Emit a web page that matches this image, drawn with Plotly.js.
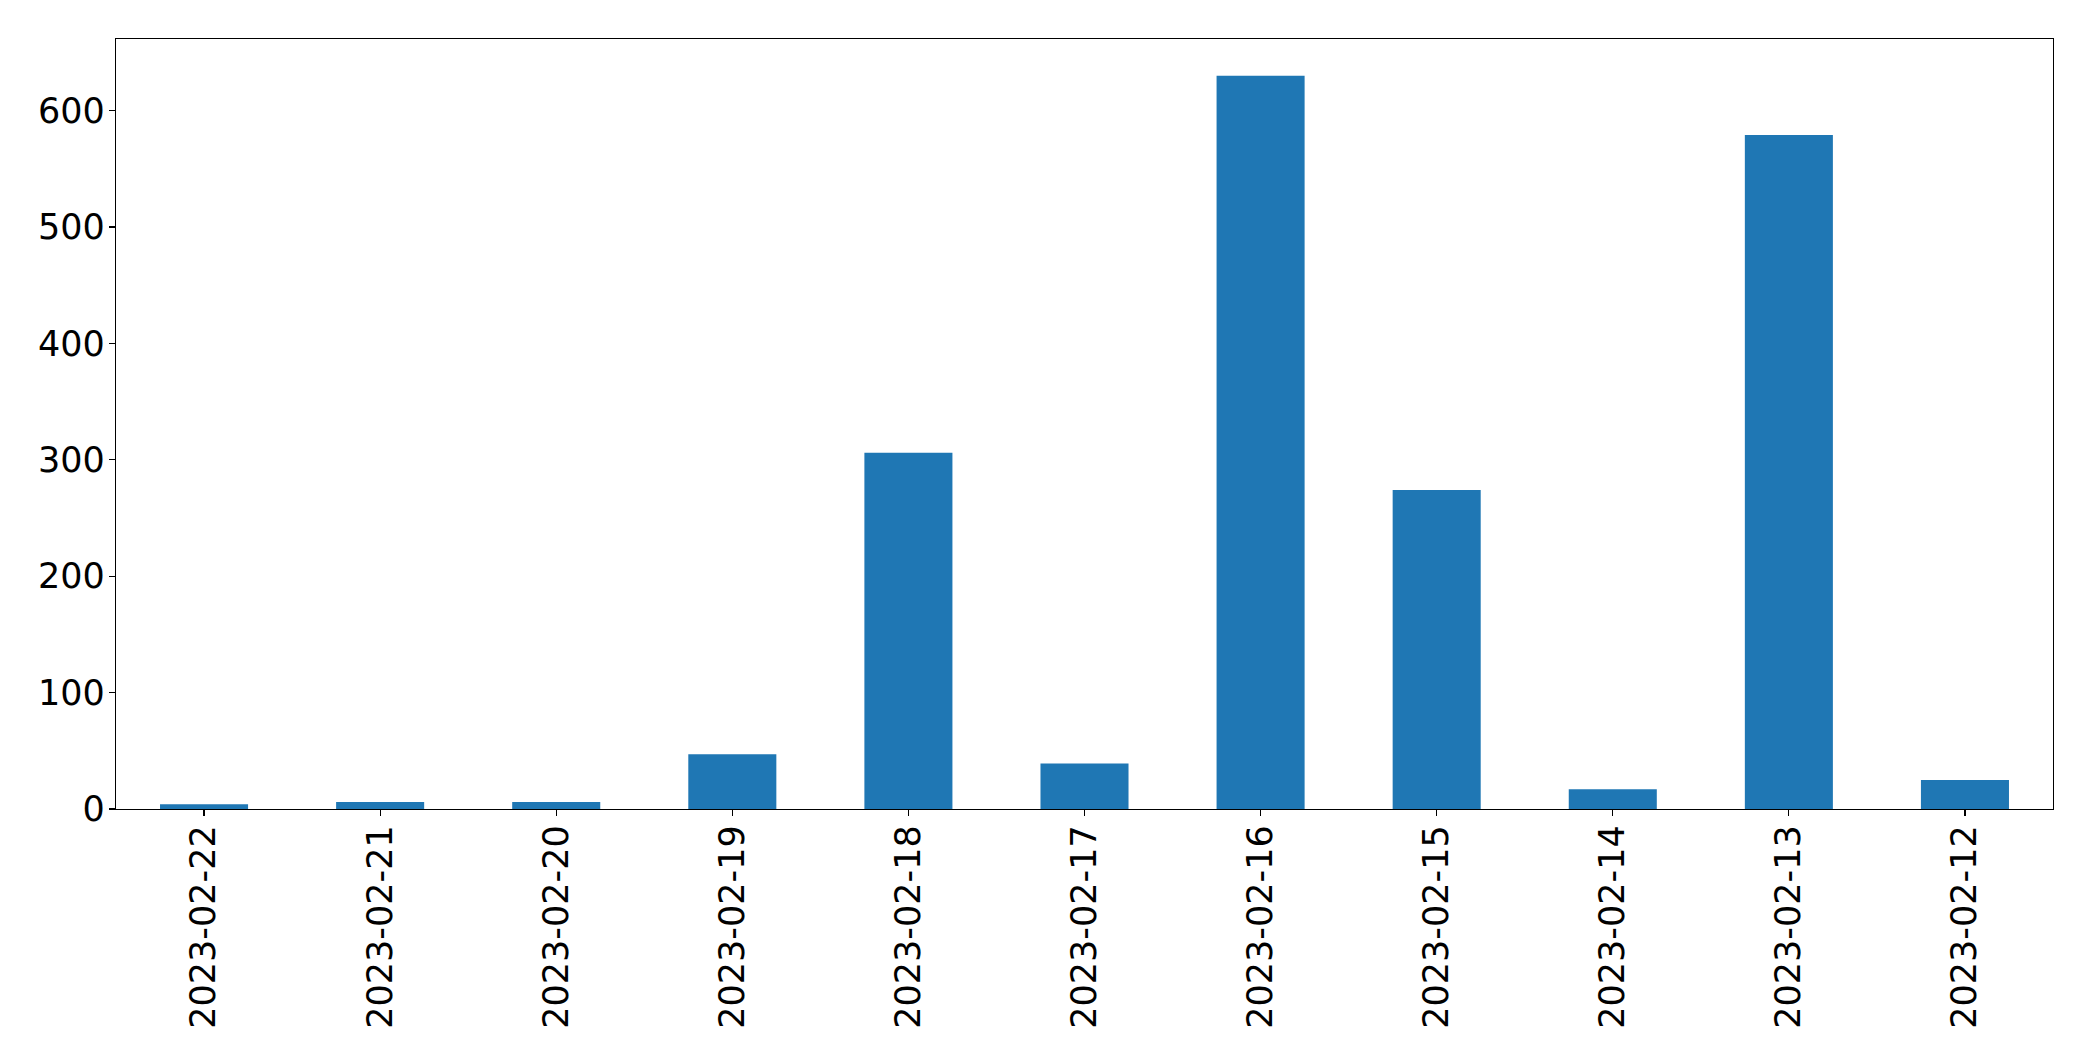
<!DOCTYPE html>
<html>
<head>
<meta charset="utf-8">
<script src="https://cdn.plot.ly/plotly-3.0.1.min.js"></script>
<style>html,body{margin:0;padding:0;background:#fff;}#chart{width:2093px;height:1061px;}</style>
</head>
<body>
<div id="chart"></div>
<script>
const dates = ["2023-02-22","2023-02-21","2023-02-20","2023-02-19","2023-02-18","2023-02-17","2023-02-16","2023-02-15","2023-02-14","2023-02-13","2023-02-12"];
const counts = [4, 6, 6, 47, 306, 39, 630, 274, 17, 579, 25];
const yTicks = [0, 100, 200, 300, 400, 500, 600];

const maxVal = Math.max(...counts);
const font = {family: "DejaVu Sans", size: 35, color: "#000"};

Plotly.newPlot("chart", [{
  type: "bar",
  x: dates,
  y: counts,
  width: 0.5,
  marker: {color: "#1f77b4", line: {width: 0}},
  hoverinfo: "x+y"
}], {
  width: 2093, height: 1061,
  margin: {l: 116, r: 40, t: 39, b: 252},
  paper_bgcolor: "#fff", plot_bgcolor: "#fff",
  showlegend: false,
  font: font,
  xaxis: {
    type: "category",
    range: [-0.5, dates.length - 0.5],
    tickangle: -90,
    ticks: "outside", ticklen: 6, tickwidth: 1.2, tickcolor: "#000",
    ticklabelstandoff: -5,
    showline: true, linecolor: "#000", linewidth: 1.3, mirror: true,
    showgrid: false, zeroline: false,
    tickfont: font
  },
  yaxis: {
    range: [0, maxVal * 1.05],
    tickvals: yTicks,
    ticktext: yTicks.map(String),
    ticks: "outside", ticklen: 6, tickwidth: 1.2, tickcolor: "#000",
    ticklabelstandoff: -3,
    showline: true, linecolor: "#000", linewidth: 1.3, mirror: true,
    showgrid: false, zeroline: false,
    tickfont: font
  }
}, {displayModeBar: false, staticPlot: true});
</script>
</body>
</html>
